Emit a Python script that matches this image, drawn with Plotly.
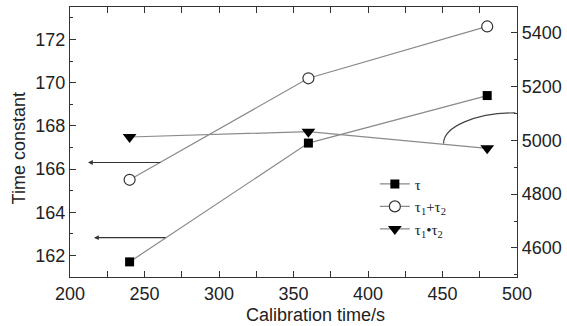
import plotly.graph_objects as go

x_time = [240, 360, 480]
tau = [161.7, 167.2, 169.4]
tau_sum = [165.5, 170.2, 172.6]
tau_prod = [5012, 5032, 4970]

x_ticks = [200, 250, 300, 350, 400, 450, 500]
left_ticks = [162, 164, 166, 168, 170, 172]
right_ticks = [4600, 4800, 5000, 5200, 5400]

# annotation arrows (left-axis coordinates): (tail_x, head_x, y)
arrows = [(261.7, 212.1, 166.3), (265.1, 216.1, 162.82)]
# arc toward right axis (left-axis coordinates)
arc_pts = [(450.7, 167.18), (450.7, 167.96), (472.3, 168.6), (498.9, 168.6)]

FONT = "Liberation Sans, Arial, sans-serif"
LINE = "#8a8a8a"

fig = go.Figure()
fig.add_trace(go.Scatter(x=x_time, y=tau, name="τ", mode="lines+markers", legendgroup="a",
                         line=dict(color=LINE, width=1.2),
                         marker=dict(symbol="square", size=9, color="black")))
fig.add_trace(go.Scatter(x=x_time, y=tau_sum, name="τ<sub>1</sub>+τ<sub>2</sub>", mode="lines+markers",
                         legendgroup="b",
                         line=dict(color=LINE, width=1.2),
                         marker=dict(symbol="circle", size=11, color="white",
                                     line=dict(color="#333", width=1.2))))
fig.add_trace(go.Scatter(x=x_time, y=tau_prod, name="τ<sub>1</sub>•τ<sub>2</sub>", mode="lines+markers",
                         yaxis="y2", legendgroup="c",
                         line=dict(color=LINE, width=1.2),
                         marker=dict(symbol="triangle-down", size=12, color="black")))

for tx, hx, yy in arrows:
    fig.add_annotation(x=hx, y=yy, ax=tx, ay=yy, xref="x", yref="y", axref="x", ayref="y",
                       text="", showarrow=True, arrowhead=2, arrowsize=0.8,
                       arrowwidth=1.2, arrowcolor="#333")

(p0, p1, p2, p3) = arc_pts
fig.add_shape(type="path", xref="x", yref="y",
              path=f"M {p0[0]},{p0[1]} C {p1[0]},{p1[1]} {p2[0]},{p2[1]} {p3[0]},{p3[1]}",
              line=dict(color="#444", width=1.2))

# axis titles as annotations (placed like the original)
fig.add_annotation(text="Calibration time/s", xref="paper", yref="paper", x=0.55, y=-0.141,
                   showarrow=False, font=dict(family=FONT, size=18, color="#222"),
                   xanchor="center", yanchor="middle")
fig.add_annotation(text="Time constant", xref="paper", yref="paper", x=-0.112, y=0.476,
                   showarrow=False, textangle=-90, font=dict(family=FONT, size=18, color="#222"),
                   xanchor="center", yanchor="middle")

axis_common = dict(showline=True, linecolor="#333", linewidth=1.2, ticks="inside",
                   ticklen=6, tickcolor="#333", showgrid=False, zeroline=False,
                   automargin=False,
                   tickfont=dict(family=FONT, size=18, color="#222"))

fig.update_layout(
    width=567, height=326,
    margin=dict(l=70, r=50, t=7, b=49),
    paper_bgcolor="white", plot_bgcolor="white",
    font=dict(family=FONT, color="#222"),
    xaxis=dict(range=[200, 500], tickvals=x_ticks, mirror="allticks",
               minor=dict(dtick=25, tick0=200, ticks="inside", ticklen=3, tickcolor="#333"),
               **axis_common),
    yaxis=dict(range=[161, 173.5], tickvals=left_ticks,
               minor=dict(dtick=1, tick0=161, ticks="inside", ticklen=3, tickcolor="#333"),
               **axis_common),
    yaxis2=dict(range=[4492, 5495], tickvals=right_ticks, overlaying="y", side="right",
                minor=dict(dtick=100, tick0=4500, ticks="inside", ticklen=3, tickcolor="#333"),
                **axis_common),
    showlegend=True,
    legend=dict(x=0.682, y=0.405, xanchor="left", yanchor="top", bgcolor="rgba(0,0,0,0)",
                font=dict(family="Liberation Serif, Times New Roman, serif", size=15, color="#222"),
                tracegroupgap=0),
)

fig.write_html("out.html", config={"displayModeBar": False},
               post_script="document.body.style.margin='0px';")
